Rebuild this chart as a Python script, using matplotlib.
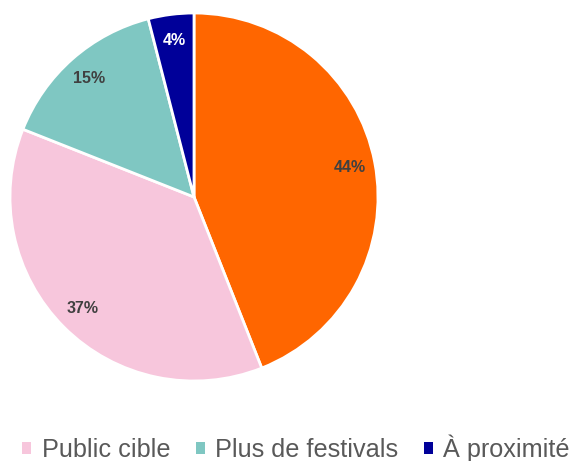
import matplotlib.pyplot as plt
from matplotlib.patches import Patch

labels = ["", "Public cible", "Plus de festivals", "À proximité"]
values = [44, 37, 15, 4]
colors = ["#ff6600", "#f7c6dc", "#7fc7c2", "#000099"]
text_colors = ["#404040", "#404040", "#404040", "#ffffff"]

plt.rcParams["font.family"] = ["Liberation Sans", "DejaVu Sans"]

fig = plt.figure(figsize=(5.71, 4.61), dpi=100)
ax = fig.add_axes([10 / 571, 80 / 461, 368 / 571, 368 / 461])

wedges, texts, autotexts = ax.pie(
    values,
    colors=colors,
    startangle=90,
    counterclock=False,
    radius=1,
    autopct="%d%%",
    pctdistance=0.86,
    wedgeprops=dict(edgecolor="white", linewidth=2),
)
for t, c in zip(autotexts, text_colors):
    t.set_color(c)
    t.set_fontsize(11.5)
    t.set_fontweight("bold")

ax.set_xlim(-1, 1)
ax.set_ylim(-1, 1)
ax.set_aspect("equal")

handles = [Patch(facecolor=c, edgecolor="none") for c in colors[1:]]
leg = fig.legend(
    handles,
    labels[1:],
    loc="center",
    bbox_to_anchor=(296 / 571, 1 - 448 / 461),
    ncol=3,
    frameon=False,
    fontsize=18.2,
    handlelength=0.36,
    handleheight=0.36,
    handletextpad=0.42,
    columnspacing=1.0,
)
for t in leg.get_texts():
    t.set_color("#595959")

fig.savefig("out.png", dpi=100)
